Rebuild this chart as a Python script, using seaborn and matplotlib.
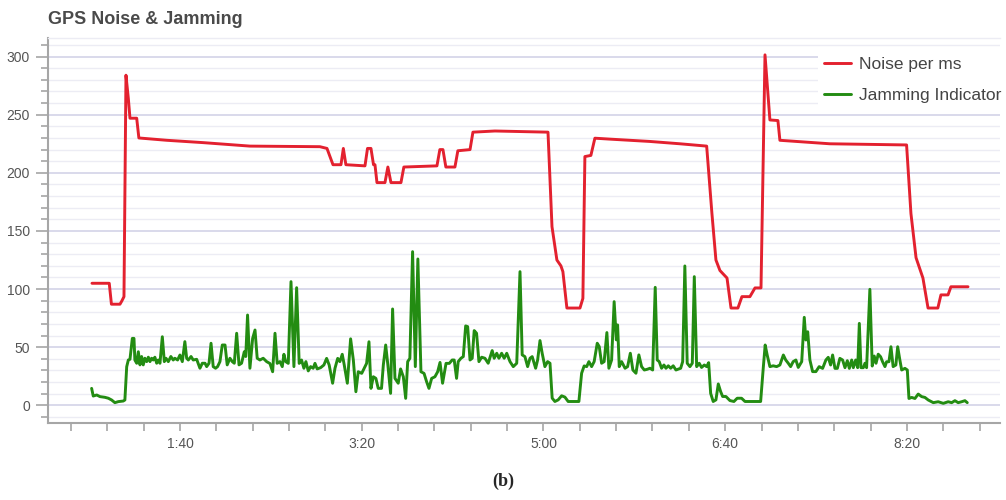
import matplotlib
matplotlib.use("Agg")
import matplotlib.pyplot as plt
from matplotlib.ticker import MultipleLocator, FuncFormatter
import seaborn as sns
import pandas as pd

# Elapsed time (s) and noise level per millisecond
noise_t = [51.6, 61.1, 62.3, 67.0, 68.1, 69.2, 70.3, 71.6, 72.5, 76.2, 77.4, 92.8,
           112.7, 138.5, 177.0, 180.9, 184.2, 188.6, 189.9, 191.3, 201.8, 203.2,
           205.1, 206.5, 207.3, 208.4, 212.8, 214.4, 216.1, 221.6, 223.2, 241.4,
           243.0, 244.7, 246.3, 251.3, 252.9, 259.6, 261.2, 273.3, 302.5, 304.7,
           307.4, 309.6, 310.7, 312.9, 320.1, 321.7, 322.8, 326.1, 328.3, 336.6,
           358.6, 375.1, 389.8, 392.7, 394.9, 397.1, 401.0, 403.2, 407.0, 409.2,
           413.6, 416.4, 419.7, 421.9, 424.6, 429.0, 430.1, 457.6, 499.8, 502.2,
           505.0, 508.8, 511.6, 517.0, 518.7, 522.6, 524.2, 533.6]
noise_v = [105, 105, 87, 87, 90, 93.5, 284, 264, 247, 247, 230, 228,
           226, 223, 222.5, 221, 207, 207, 221, 207, 206, 221,
           221, 207, 207, 191.6, 191.6, 205, 191.6, 191.6, 205, 206,
           220, 220, 205, 205, 219, 220, 235, 236, 235, 153.7,
           125, 120, 115, 83.7, 83.7, 92, 214, 215, 229.8, 229,
           227, 225, 223, 165, 125, 116, 109.5, 83.7, 83.7, 93.5,
           93.5, 101, 101, 301.5, 245.5, 245, 228, 225, 224, 165,
           127, 109.5, 83.7, 83.7, 95, 95, 102, 102]

# Elapsed time (s) and jamming indicator
jam_t = [51.4, 52.3, 54.2, 56.0, 58.7, 60.6, 62.4, 64.2, 66.1, 68.8, 69.7, 70.7,
         71.6, 72.5, 73.8, 74.7, 75.2, 76.2, 77.1, 78.0, 78.9, 79.8, 80.7, 81.7,
         82.6, 83.5, 84.4, 85.3, 86.2, 87.2, 88.1, 89.0, 90.3, 91.4, 92.3, 93.6,
         95.0, 96.3, 97.2, 98.7, 100.0, 101.3, 102.7, 103.7, 104.6, 106.1, 107.3,
         109.2, 111.0, 112.3, 113.8, 114.7, 116.0, 117.1, 118.3, 119.6, 120.7,
         122.0, 123.3, 124.8, 126.0, 127.5, 128.8, 129.9, 131.2, 132.5, 133.9,
         135.4, 136.2, 137.2, 138.5, 140.0, 141.3, 142.5, 144.0, 145.8, 147.7,
         149.5, 151.0, 152.3, 153.5, 155.0, 156.3, 157.2, 158.2, 159.6, 161.1,
         162.7, 164.2, 165.6, 166.9, 168.2, 169.3, 170.6, 171.9, 173.3, 174.3,
         175.5, 177.4, 179.2, 180.7, 182.1, 184.0, 185.3, 186.8, 188.0, 189.3,
         190.4, 192.1, 193.9, 195.4, 196.8, 198.1, 200.0, 202.7, 204.0, 205.1,
         206.4, 207.8, 209.1, 210.9, 211.9, 213.2, 214.4, 215.9, 217.0, 218.3,
         220.1, 221.4, 222.9, 224.2, 225.3, 226.5, 228.0, 229.5, 230.9, 232.6,
         234.3, 235.7, 237.0, 238.5, 240.3, 241.8, 243.1, 244.5, 246.4, 248.2,
         249.8, 250.9, 252.2, 253.1, 254.6, 255.9, 257.2, 258.3, 259.6, 260.8,
         261.9, 263.2, 264.5, 266.0, 267.8, 269.6, 271.8, 272.9, 274.3, 275.5,
         277.0, 278.4, 279.8, 281.6, 283.4, 285.3, 287.1, 288.3, 289.8, 291.3,
         292.6, 293.8, 295.7, 296.8, 298.1, 299.3, 300.8, 302.3, 303.6, 304.8,
         306.3, 308.1, 310.0, 311.8, 313.6, 319.5, 321.0, 322.4, 323.8, 325.0,
         326.5, 327.9, 329.6, 330.7, 332.0, 333.4, 334.9, 336.0, 337.5, 338.9,
         340.1, 340.8, 341.7, 343.0, 344.9, 346.3, 347.8, 349.2, 350.9, 352.5,
         354.0, 355.5, 357.1, 358.6, 360.1, 361.5, 362.6, 363.7, 365.0, 366.3,
         367.4, 368.7, 370.0, 371.4, 372.9, 375.5, 376.6, 377.8, 379.1, 380.6,
         381.9, 383.0, 384.3, 385.7, 387.0, 388.5, 389.8, 390.9, 392.0, 393.4,
         394.9, 396.2, 397.5, 398.6, 400.4, 402.6, 404.8, 406.6, 409.0, 410.9,
         419.5, 421.0, 422.0, 423.1, 424.6, 426.4, 428.3, 430.1, 432.0, 433.3,
         434.7, 436.0, 437.4, 438.9, 440.2, 442.1, 443.5, 444.4, 445.4, 446.6,
         448.1, 449.9, 451.7, 453.6, 455.4, 456.7, 458.0, 459.1, 460.4, 461.7,
         463.1, 464.6, 465.9, 467.2, 468.3, 469.6, 470.5, 471.8, 472.9, 473.8,
         474.7, 476.0, 476.9, 477.8, 479.6, 480.9, 482.0, 483.0, 484.2, 485.5,
         486.6, 487.9, 488.8, 490.1, 491.2, 492.4, 493.9, 494.9, 496.1, 497.1,
         498.9, 500.2, 501.1, 502.6, 504.4, 506.2, 508.1, 509.9, 511.7, 514.5,
         517.2, 520.0, 522.7, 524.6, 526.4, 528.2, 530.1, 531.9, 533.2]
jam_v = [14.6, 8.0, 8.9, 7.5, 6.9, 6.1, 4.6, 2.3, 3.2, 3.7, 4.6, 33.2,
         39, 39.6, 57.6, 57.6, 39, 36.2, 46.1, 34.8, 42, 34.8, 40.5, 37.6,
         41.4, 37.6, 40.5, 39, 41.4, 36.2, 39, 36.2, 59, 37.6, 40.5, 37.6,
         42, 39, 40.5, 39, 43.3, 37.6, 54.8, 40.5, 39, 42, 39,
         39.6, 31.9, 36.2, 36.2, 33.3, 36.2, 53.4, 33.3, 31.9, 33.3,
         37.6, 51.9, 51.9, 34.8, 40.5, 37.6, 36.2, 62, 34.8, 36.2,
         46.1, 42, 77.7, 31.9, 57.6, 64.8, 40.5, 39, 40.5, 37.6,
         36, 28.9, 62, 36.1, 37.6, 33.3, 43.9, 37.6, 36.1, 106.4,
         33.3, 101.2, 36.1, 39, 31.9, 37.6, 29.6, 33.3, 31.9, 36.1,
         31.3, 32.4, 34.7, 40.4, 34.7, 19, 31.9, 40.4, 37.6, 43.9,
         34.7, 19, 57.2, 39, 11.7, 28.9, 27.5, 36.1, 54.7, 14.6,
         24.6, 23.2, 14.6, 14.6, 34.7, 51.9, 34.7, 10.3, 82.9, 23.2,
         19, 31.3, 24.6, 6.0, 37.6, 40.4, 132.2, 33.3, 125.9, 28.9,
         27.5, 20.4, 14.6, 23.2, 24.6, 28.9, 36.9, 19, 36.1, 36.1,
         39, 39, 23.2, 37.6, 40.5, 41.9, 68.3, 67.7, 39, 40.5,
         64.3, 62, 37.6, 41.4, 40.5, 36.2, 47.1, 40.5, 44.8, 40.5,
         44.8, 40.5, 44.8, 37.6, 33.3, 36.2, 115, 43.4, 41.9, 33.3,
         40.5, 41.9, 31.9, 39, 55.7, 44.8, 33.3, 37.6, 36.2, 6.2,
         3.3, 4.7, 8.2, 7.1, 3.3, 3.3, 27.6, 33.9, 33.3, 37.6,
         33.3, 37.6, 53.4, 50.5, 36.2, 37.6, 62.6, 31.9, 39, 89.2,
         56.3, 69.2, 33.3, 37.6, 31.9, 33.3, 44.8, 30.4, 27.6, 43.4,
         33.3, 30.4, 31, 31.9, 30.4, 101.5, 39, 37.6, 31.9, 34.7,
         31.9, 34, 31.9, 34, 30.4, 31.9, 37.6, 119.9, 36.2, 33.3,
         36.2, 110.7, 33.3, 36.2, 32.6, 34.7, 33.3, 36.7, 10.3, 3.3,
         4.7, 18.4, 11.8, 7.6, 7.6, 4.1, 3.3, 6.1, 6.1, 3.3,
         3.3, 33.3, 51.9, 43.3, 33.3, 34, 33.3, 34.7, 43.3, 39,
         36.2, 33.3, 37.6, 39, 32.6, 37.6, 75.7, 56.2, 63.3, 39,
         29, 29, 33.3, 31.8, 39, 41.3, 34.7, 43.3, 31.8, 31.8,
         40.4, 39, 32.4, 38.4, 31.8, 39, 32.4, 39, 32.4, 70.5,
         32.4, 32.4, 36.2, 32.4, 99.8, 33.8, 42.4, 36.2, 44, 41.8,
         37.5, 33.3, 37.5, 37.5, 50.4, 33.3, 34.7, 50.4, 39, 30.4,
         31.8, 30.4, 5.9, 6.8, 5.9, 9.7, 7.5, 6.8, 4.6, 2.3,
         3.1, 1.7, 3.1, 2.3, 4.0, 2.3, 3.1, 4.0, 2.3]

series_labels = ["Noise per ms", "Jamming Indicator"]
series_colors = ["#e3212f", "#238c12"]

noise_df = pd.DataFrame({"t": noise_t, "value": noise_v})
jam_df = pd.DataFrame({"t": jam_t, "value": jam_v})

sns.set_theme(style="white")
plt.rcParams["font.family"] = ["Liberation Sans", "DejaVu Sans"]

fig = plt.figure(figsize=(10.06, 5.0), dpi=100)
ax = fig.add_axes([48 / 1006, 77 / 500, 952 / 1006, 385 / 500])

sns.lineplot(data=noise_df, x="t", y="value", ax=ax, color=series_colors[0],
             linewidth=2.1, sort=False, estimator=None, label=series_labels[0])
sns.lineplot(data=jam_df, x="t", y="value", ax=ax, color=series_colors[1],
             linewidth=2.1, sort=False, estimator=None, label=series_labels[1])

ax.set_xlim(27.4, 551.2)
ax.set_ylim(-15.2, 316)

# y axis: labelled every 50, light grid every 10
ax.yaxis.set_major_locator(MultipleLocator(50))
ax.yaxis.set_minor_locator(MultipleLocator(10))
ax.grid(which="major", axis="y", color="#cfcfe6", linewidth=1.1, zorder=0)
ax.grid(which="minor", axis="y", color="#ececf4", linewidth=1.0, zorder=0)
ax.grid(which="both", axis="x", visible=False)

# x axis: m:ss every 100 s, ticks every 20 s
ax.xaxis.set_major_locator(MultipleLocator(100))
ax.xaxis.set_minor_locator(MultipleLocator(20))
ax.xaxis.set_major_formatter(FuncFormatter(lambda t, _: f"{int(t // 60)}:{int(round(t % 60)):02d}"))

spine_col = "#a6a6a6"
for side in ["left", "bottom"]:
    ax.spines[side].set_color(spine_col)
    ax.spines[side].set_linewidth(1.5)
ax.spines["right"].set_visible(False)
ax.spines["top"].set_color("#ececf4")
ax.spines["top"].set_linewidth(1.0)

ax.tick_params(axis="y", which="major", length=9, width=1.2, color=spine_col,
               labelsize=10, labelcolor="#555555", pad=4, left=True)
ax.tick_params(axis="y", which="minor", length=5, width=1.2, color=spine_col, left=True)
ax.tick_params(axis="x", which="both", length=6, width=1.2, color=spine_col,
               labelsize=10, labelcolor="#555555", pad=4, bottom=True)
ax.set_xlabel("")
ax.set_ylabel("")

leg = ax.legend(loc="upper left", bbox_to_anchor=(0.809, 0.966), frameon=True,
                fancybox=False, facecolor="white", edgecolor="none", framealpha=1.0,
                fontsize=12.5, handlelength=1.55, handletextpad=0.45,
                labelspacing=0.92, borderpad=0.35, borderaxespad=0)
for text in leg.get_texts():
    text.set_color("#444444")

fig.text(48 / 1006, 1 - 20 / 500, "GPS Noise & Jamming", fontsize=13, fontweight="bold",
         color="#4a4a4a", ha="left", va="center")
fig.text(0.5, 1 - 481 / 500, "(b)", fontsize=13, fontweight="bold",
         family=["Liberation Serif", "DejaVu Serif"], ha="center", va="center")

fig.savefig("out.png", dpi=100)
